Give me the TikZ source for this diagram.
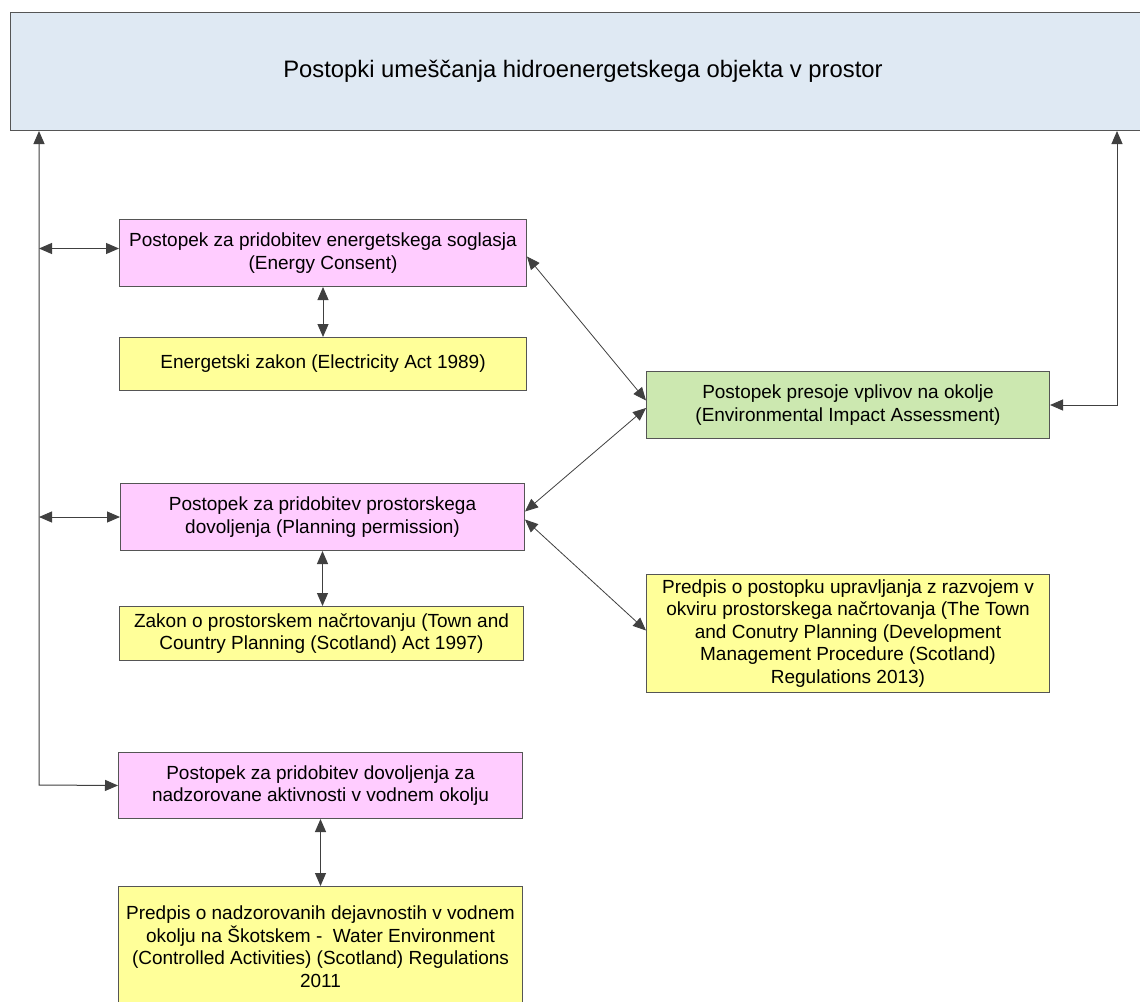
\documentclass[tikz,border=0pt]{standalone}
\usepackage{fontspec}
\setmainfont{Liberation Sans}
\usetikzlibrary{arrows.meta}

\definecolor{titlefill}{HTML}{DFE9F3}
\definecolor{pinkfill}{HTML}{FFCCFF}
\definecolor{yellowfill}{HTML}{FFFF99}
\definecolor{greenfill}{HTML}{CCE8B0}
\definecolor{boxline}{HTML}{555555}
\definecolor{connline}{HTML}{404040}

\tikzset{
  >={Triangle[length=13pt,width=11pt]},
  box/.style={draw=boxline, line width=1pt, inner sep=0pt, anchor=north west,
    align=center, text=black, font=\fontsize{19}{22.5}\selectfont},
  procbox/.style={box, fill=pinkfill},
  lawbox/.style={box, fill=yellowfill},
  conn/.style={draw=connline, line width=1pt},
}

\begin{document}
\begin{tikzpicture}[x=1pt,y=-1pt]
\useasboundingbox (0,0) rectangle (1140,1001);
\clip (0,0) rectangle (1140,1001);
\fill[white] (0,0) rectangle (1140,1001);

% header
\node[box, fill=titlefill, minimum width=1170pt, minimum height=118pt,
      font=\fontsize{23.8}{28}\selectfont] (top) at (10,12)
  {\hspace*{-25pt}Postopki umeščanja hidroenergetskega objekta v prostor};

% energy consent branch
\node[procbox, minimum width=407pt, minimum height=67pt] (box1) at (119,219)
  {Postopek za pridobitev energetskega soglasja\\(Energy Consent)};
\node[lawbox, minimum width=407pt, minimum height=53pt] (box2) at (119,337)
  {Energetski zakon (Electricity Act 1989)};

% environmental impact assessment
\node[box, fill=greenfill, minimum width=403pt, minimum height=67pt] (eia) at (646,371)
  {Postopek presoje vplivov na okolje\\(Environmental Impact Assessment)};

% planning permission branch
\node[procbox, minimum width=404pt, minimum height=67pt] (box3) at (120,483)
  {Postopek za pridobitev prostorskega\\dovoljenja (Planning permission)};
\node[lawbox, minimum width=404pt, minimum height=54pt] (box4) at (119,606)
  {Zakon o prostorskem načrtovanju (Town and\\Country Planning (Scotland) Act 1997)};
\node[lawbox, minimum width=403pt, minimum height=118pt] (box5) at (646,574)
  {Predpis o postopku upravljanja z razvojem v\\okviru prostorskega načrtovanja (The Town\\and Conutry Planning (Development\\Management Procedure (Scotland)\\Regulations 2013)};

% water environment branch
\node[procbox, minimum width=404pt, minimum height=66pt] (box6) at (118,752)
  {Postopek za pridobitev dovoljenja za\\nadzorovane aktivnosti v vodnem okolju};
\node[lawbox, minimum width=404pt, minimum height=120pt] (box7) at (118,886)
  {Predpis o nadzorovanih dejavnostih v vodnem\\okolju na Škotskem - \ Water Environment\\(Controlled Activities) (Scotland) Regulations\\2011};

% guide lines
\coordinate (spine) at (39,0);
\coordinate (rspine) at (1117,0);
\coordinate (corner) at (39,785);
\coordinate (a1) at ([yshift=4.5pt]box1.west);

% left spine
\draw[conn,<->] (top.south -| spine) -- (corner) -- (box6.west);
\draw[conn,<->] (a1 -| spine) -- (a1);
\draw[conn,<->] (box3.west -| spine) -- (box3.west);

% law links
\draw[conn,<->] (box1.south) -- (box1.south |- box2.north);
\draw[conn,<->] (box3.south) -- (box3.south |- box4.north);
\draw[conn,<->] (box6.south) -- (box6.south |- box7.north);

% links to the assessment and regulations
\draw[conn,<->, line width=0.8pt] ([yshift=-3.5pt]box1.east) -- ([yshift=4.5pt]eia.west);
\draw[conn,<->, line width=0.8pt] ([yshift=5.5pt]box3.east) -- ([yshift=-3pt]eia.west);
\draw[conn,<->, line width=0.8pt] ([yshift=-2.5pt]box3.east) -- ([yshift=3pt]box5.west);

% right return line
\draw[conn,<->] (eia.east) -- (eia.east -| rspine) -- (top.south -| rspine);
\end{tikzpicture}
\end{document}
